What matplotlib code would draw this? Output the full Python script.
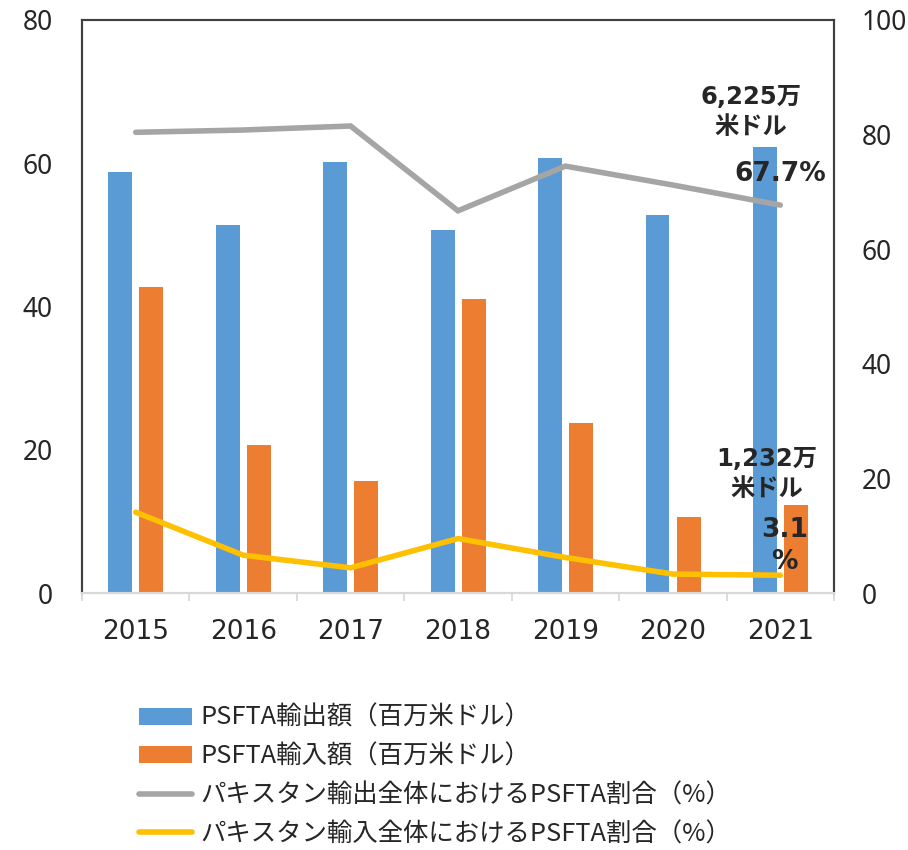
import numpy as np
import matplotlib.pyplot as plt
from matplotlib.ticker import FixedLocator

plt.rcParams['font.family'] = ['DejaVu Sans', 'Noto Sans CJK JP']

#---data
years      = ['2015', '2016', '2017', '2018', '2019', '2020', '2021']
export_val = [58.8, 51.4, 60.2, 50.7, 60.7, 52.8, 62.25]   # million USD
import_val = [42.7, 20.6, 15.7, 41.1, 23.8, 10.6, 12.32]   # million USD
export_pct = [80.4, 80.8, 81.5, 66.7, 74.5, 71.2, 67.7]    # %
import_pct = [14.1, 6.6, 4.4, 9.5, 6.2, 3.3, 3.1]          # %

lab_exp  = 'PSFTA輸出額（百万米ドル）'
lab_imp  = 'PSFTA輸入額（百万米ドル）'
lab_epct = 'パキスタン輸出全体におけるPSFTA割合（%）'
lab_ipct = 'パキスタン輸入全体におけるPSFTA割合（%）'

c_blue, c_orange = '#5B9BD5', '#ED7D31'
c_gray, c_yellow = '#A5A5A5', '#FFC000'
txt = '#262626'
frame = '#404040'

fig = plt.figure(figsize=(9.08, 8.5), dpi=100)
ax = fig.add_axes([82/908, 1-593/850, (834-82)/908, (593-20)/850])
ax2 = ax.twinx()

x = np.arange(len(years))
w = 0.223
ax.bar(x - 0.143, export_val, w, color=c_blue, label=lab_exp, zorder=2)
ax.bar(x + 0.146, import_val, w, color=c_orange, label=lab_imp, zorder=2)

ax2.plot(x, export_pct, color=c_gray, lw=4, solid_capstyle='round',
         solid_joinstyle='miter', label=lab_epct)
ax2.plot(x, import_pct, color=c_yellow, lw=4, solid_capstyle='round',
         solid_joinstyle='miter', label=lab_ipct)

ax.set_xlim(-0.5, len(years) - 0.5)
ax.set_ylim(0, 80)
ax2.set_ylim(0, 100)
ax.set_yticks([0, 20, 40, 60, 80])
ax2.set_yticks([0, 20, 40, 60, 80, 100])

ax.set_xticks(x)
ax.set_xticklabels(years)
ax.xaxis.set_minor_locator(FixedLocator(np.arange(len(years) + 1) - 0.5))
ax.tick_params(axis='x', which='major', length=0, pad=19, labelsize=19, labelcolor=txt)
ax.tick_params(axis='x', which='minor', length=6, width=1.3, color='#D9D9D9')
ax.tick_params(axis='y', length=0, pad=21, labelsize=19, labelcolor=txt)
ax2.tick_params(axis='y', length=0, pad=20, labelsize=19, labelcolor=txt)
for t in ax.get_yticklabels() + ax2.get_yticklabels():
    t.set_fontfamily('Noto Sans')

for a in (ax, ax2):
    for s in ('left', 'right', 'top'):
        a.spines[s].set_color(frame)
        a.spines[s].set_linewidth(1.5)
    a.spines['bottom'].set_color('#D9D9D9')
    a.spines['bottom'].set_linewidth(1.5)

#---data labels for 2021
bold = dict(fontsize=17.5, fontweight='bold', color=txt, ha='center', va='bottom',
            textcoords='offset pixels', linespacing=1.3)
i = len(years) - 1
ax.annotate('{:,}万\n米ドル'.format(int(round(export_val[i] * 100))),
            xy=(i - 0.143, export_val[i]), xytext=(-14, 8), **bold)
ax.annotate('{:,}万\n米ドル'.format(int(round(import_val[i] * 100))),
            xy=(i + 0.146, import_val[i]), xytext=(-29, 4), **bold)
ax2.annotate('{}%'.format(export_pct[i]), xy=(i, export_pct[i]), xytext=(0, 18),
             **{**bold, 'fontsize': 19})
ax2.annotate('{}\n%'.format(import_pct[i]), xy=(i, import_pct[i]), xytext=(4, 0),
             **{**bold, 'fontsize': 19})

#---legend below the chart
h1, l1 = ax.get_legend_handles_labels()
h2, l2 = ax2.get_legend_handles_labels()
leg = fig.legend(h1 + h2, l1 + l2, loc='upper left',
                 bbox_to_anchor=(139/908, 1-705/850), frameon=False,
                 prop={'family': ['Noto Sans CJK JP'], 'size': 18.3},
                 handlelength=2.1, handleheight=0.65, handletextpad=0.3,
                 labelspacing=0.5, borderpad=0, borderaxespad=0)
for t in leg.get_texts():
    t.set_color(txt)

plt.savefig('out.png', dpi=100)
